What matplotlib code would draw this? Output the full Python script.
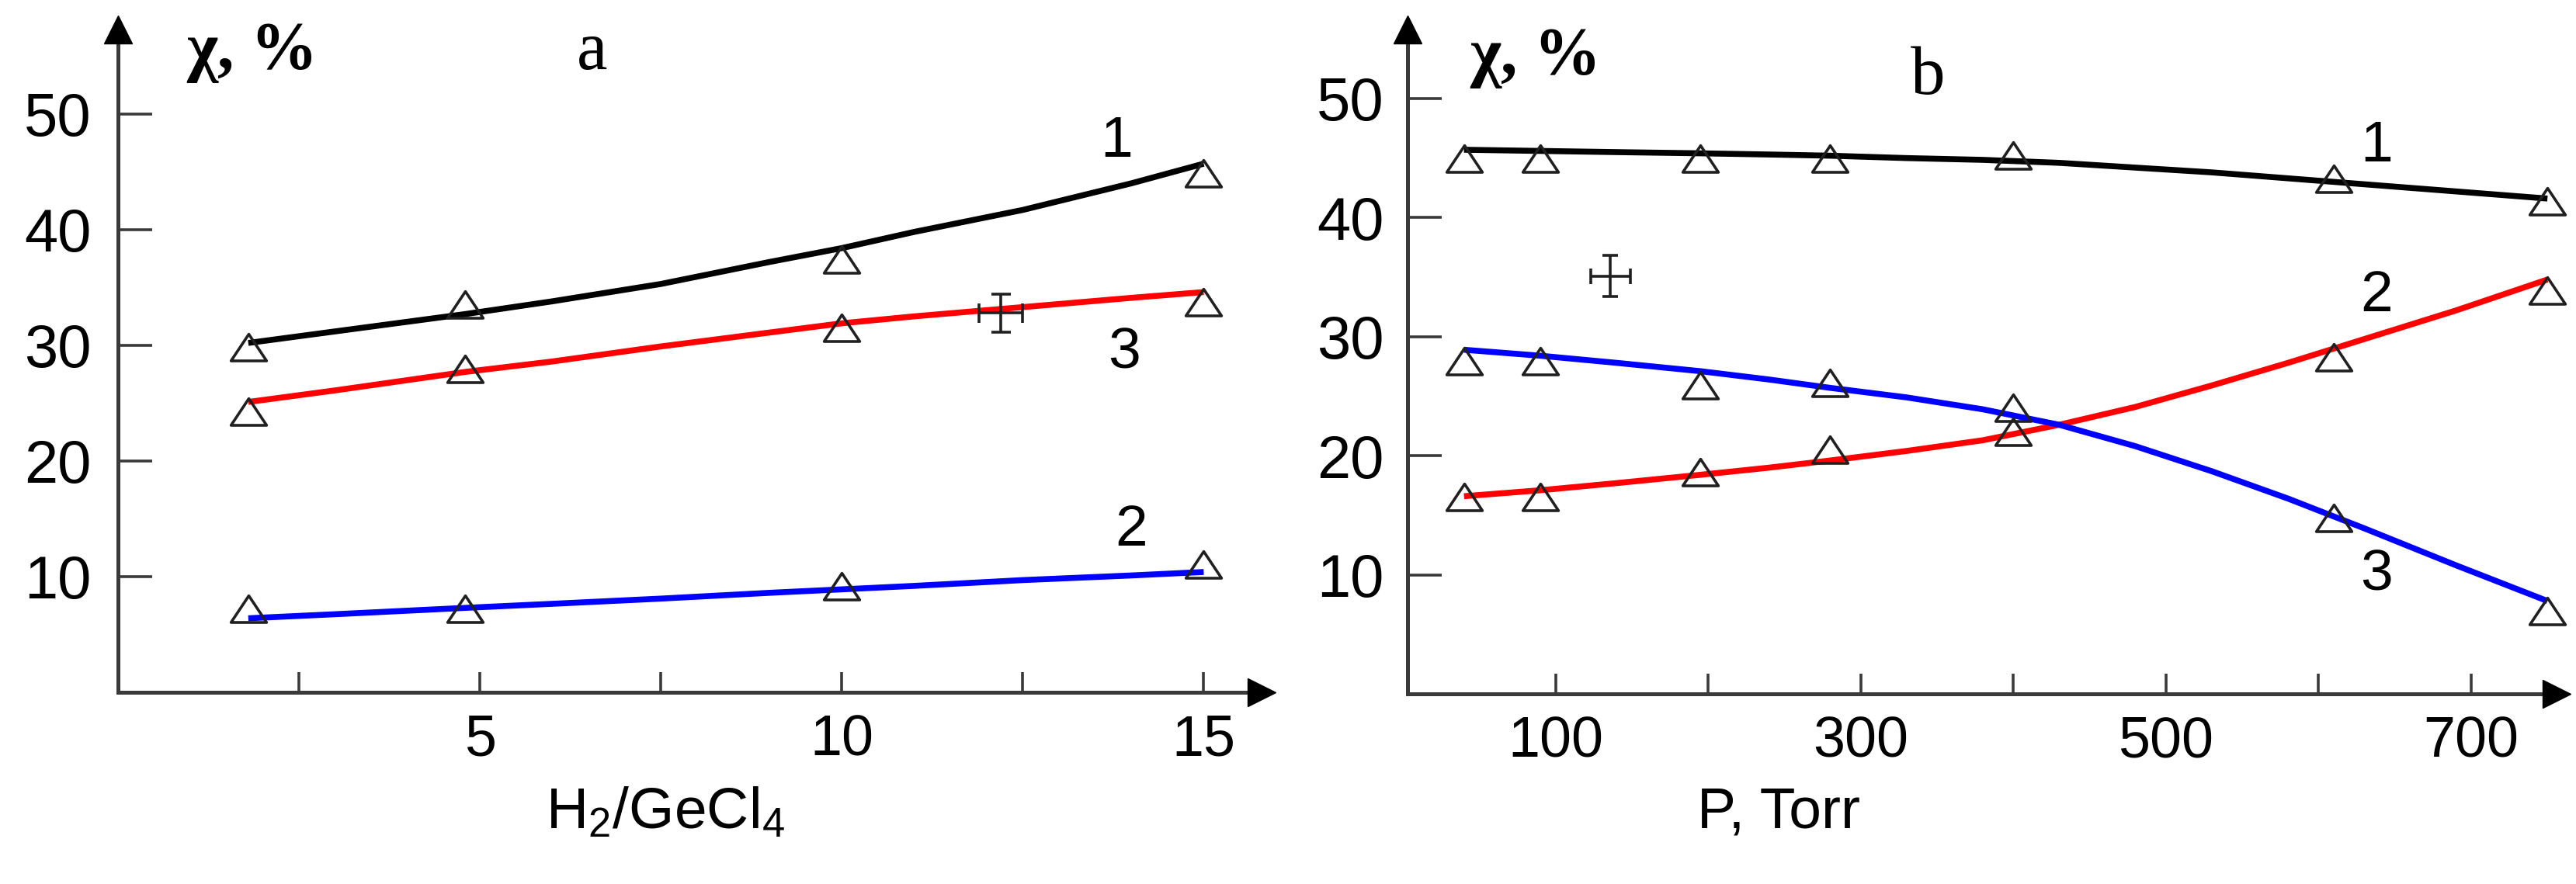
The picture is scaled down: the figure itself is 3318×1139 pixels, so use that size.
import matplotlib
matplotlib.use("Agg")
import matplotlib.pyplot as plt
from matplotlib.path import Path

plt.rcParams["mathtext.fontset"] = "custom"
plt.rcParams["mathtext.rm"] = "Liberation Sans"
plt.rcParams["mathtext.it"] = "Liberation Sans"

# ---------------- Data: panel a (H2/GeCl4) ----------------
a_x_pts = [1.8, 4.8, 10.0, 15.0]
a_pts_1 = [29.8, 33.5, 37.4, 44.8]
a_pts_3 = [24.2, 27.9, 31.5, 33.7]
a_pts_2 = [7.2, 7.2, 9.1, 11.0]

a_x_curve = [1.8, 3.0, 4.8, 6.0, 7.5, 9.0, 10.0, 11.0, 12.5, 14.0, 15.0]
a_curve_1 = [30.2, 31.2, 32.7, 33.8, 35.3, 37.2, 38.4, 39.8, 41.7, 44.0, 45.7]
a_curve_3 = [25.1, 26.1, 27.7, 28.6, 29.9, 31.1, 31.9, 32.5, 33.3, 34.1, 34.6]
a_curve_2 = [6.4, 6.75, 7.3, 7.65, 8.1, 8.6, 8.9, 9.2, 9.7, 10.1, 10.4]

a_err_x, a_err_y, a_err_dx, a_err_dy = 12.2, 32.8, 0.3, 1.65

a_xticks_major = [5, 10, 15]
a_xticks_minor = [2.5, 7.5, 12.5]
yticks = [10, 20, 30, 40, 50]

# ---------------- Data: panel b (P, Torr) ----------------
b_x_pts = [40, 90, 195, 280, 400, 610, 750]
b_pts_1 = [44.9, 44.9, 44.9, 44.9, 45.2, 43.2, 41.3]
b_pts_2 = [16.5, 16.5, 18.6, 20.5, 22.0, 28.2, 33.8]
b_pts_3 = [27.9, 27.9, 25.9, 26.1, 24.0, 14.7, 6.9]

b_x_curve = [40, 90, 140, 195, 240, 280, 330, 380, 430, 480, 530, 580, 630, 690, 750]
b_curve_1 = [45.7, 45.6, 45.5, 45.4, 45.3, 45.2, 45.0, 44.85, 44.6, 44.2, 43.8, 43.3,
             42.8, 42.2, 41.6]
b_curve_2 = [16.6, 17.1, 17.7, 18.4, 19.0, 19.6, 20.4, 21.3, 22.6, 24.1, 25.9, 27.8,
             29.8, 32.2, 34.8]
b_curve_3 = [28.9, 28.4, 27.8, 27.1, 26.4, 25.7, 24.9, 23.9, 22.6, 20.8, 18.7, 16.4,
             13.9, 10.8, 7.8]

b_err_x, b_err_y, b_err_dx, b_err_dy = 136, 35.1, 13, 1.7

b_xticks_major = [100, 300, 500, 700]
b_xticks_minor = [200, 400, 600]

# ---------------- Style ----------------
SANS = "Liberation Sans"
SERIF = "Liberation Serif"
AXC = "#3a3a3a"
tri = Path([(-1, -0.72), (1, -0.72), (0, 0.78), (-1, -0.72)],
           [Path.MOVETO, Path.LINETO, Path.LINETO, Path.CLOSEPOLY])

fig = plt.figure(figsize=(33.18, 11.39), dpi=100)
fig.patch.set_facecolor("white")

axa = fig.add_axes([152 / 3318, (1139 - 892) / 1139, 1473 / 3318, 854 / 1139])
axb = fig.add_axes([1813 / 3318, (1139 - 894) / 1139, 1480 / 3318, 856 / 1139])


def style_axes(ax, xlim, ylim, xmaj, xmin, ypad):
    ax.set_xlim(*xlim)
    ax.set_ylim(*ylim)
    for s in ("top", "right"):
        ax.spines[s].set_visible(False)
    for s in ("left", "bottom"):
        ax.spines[s].set_color(AXC)
        ax.spines[s].set_linewidth(3.6)
    ax.set_xticks(xmaj)
    ax.set_xticks(xmin, minor=True)
    ax.set_yticks(yticks)
    ax.tick_params(axis="x", which="both", direction="in", length=19, width=2.6,
                   color=AXC, labelsize=53, pad=20)
    ax.tick_params(axis="y", direction="in", length=32, width=2.6, color=AXC,
                   labelsize=56, pad=ypad)
    for lab in ax.get_xticklabels() + ax.get_yticklabels():
        lab.set_fontfamily(SANS)
    # arrow heads
    ax.plot([1], [0], marker=">", ms=26, color="black", transform=ax.transAxes,
            clip_on=False, zorder=5)
    ax.plot([0], [1], marker="^", ms=26, color="black", transform=ax.transAxes,
            clip_on=False, zorder=5)


style_axes(axa, (0, 15.8), (0, 57.3), a_xticks_major, a_xticks_minor, 25)
style_axes(axb, (3, 756), (0, 55.8), b_xticks_major, b_xticks_minor, 22)

LW = 5.5


def draw(ax, xc, yc, color, xp, yp):
    ax.plot(xc, yc, color=color, lw=LW, solid_capstyle="butt", solid_joinstyle="round",
            zorder=3, clip_on=False)
    ax.plot(xp, yp, linestyle="none", marker=tri, ms=33, mfc="none", mec="#202020",
            mew=2.6, zorder=4, clip_on=False)


# panel a
draw(axa, a_x_curve, a_curve_1, "black", a_x_pts, a_pts_1)
draw(axa, a_x_curve, a_curve_3, "#ff0000", a_x_pts, a_pts_3)
draw(axa, a_x_curve, a_curve_2, "#0000ff", a_x_pts, a_pts_2)
axa.errorbar([a_err_x], [a_err_y], xerr=[a_err_dx], yerr=[a_err_dy], fmt="none",
             ecolor="#202020", elinewidth=2.6, capsize=9, capthick=2.6, zorder=5)

# panel b
draw(axb, b_x_curve, b_curve_1, "black", b_x_pts, b_pts_1)
draw(axb, b_x_curve, b_curve_2, "#ff0000", b_x_pts, b_pts_2)
draw(axb, b_x_curve, b_curve_3, "#0000ff", b_x_pts, b_pts_3)
axb.errorbar([b_err_x], [b_err_y], xerr=[b_err_dx], yerr=[b_err_dy], fmt="none",
             ecolor="#202020", elinewidth=2.6, capsize=7, capthick=2.6, zorder=5)

# curve number labels
num_kw = dict(fontsize=54, fontfamily=SANS, ha="center", va="center", color="black")
axa.text(13.8, 47.6, "1", **num_kw)
axa.text(13.9, 29.3, "3", **num_kw)
axa.text(14.0, 14.0, "2", **num_kw)
axb.text(638, 46.0, "1", **num_kw)
axb.text(638, 33.4, "2", **num_kw)
axb.text(638, 10.0, "3", **num_kw)

# axis titles (chi, %) and panel letters
chi_kw = dict(fontsize=62, fontfamily=SERIF, fontweight="bold", ha="center",
              va="center", clip_on=False)
axa.text(1.85, 55.3, "χ, %", **chi_kw)
axb.text(87, 53.4, "χ, %", **chi_kw)
let_kw = dict(fontsize=64, fontfamily=SERIF, ha="center", va="center", clip_on=False)
axa.text(6.55, 55.3, "a", **let_kw)
axb.text(344, 51.8, "b", **let_kw)

# x-axis labels
fig.text(857 / 3318, 1 - 1047 / 1139, r"H$_2$/GeCl$_4$", fontsize=54, fontfamily=SANS,
         ha="center", va="center")
fig.text(2291 / 3318, 1 - 1047 / 1139, "P, Torr", fontsize=54, fontfamily=SANS,
         ha="center", va="center")

fig.savefig("out.png", dpi=100, facecolor="white")
